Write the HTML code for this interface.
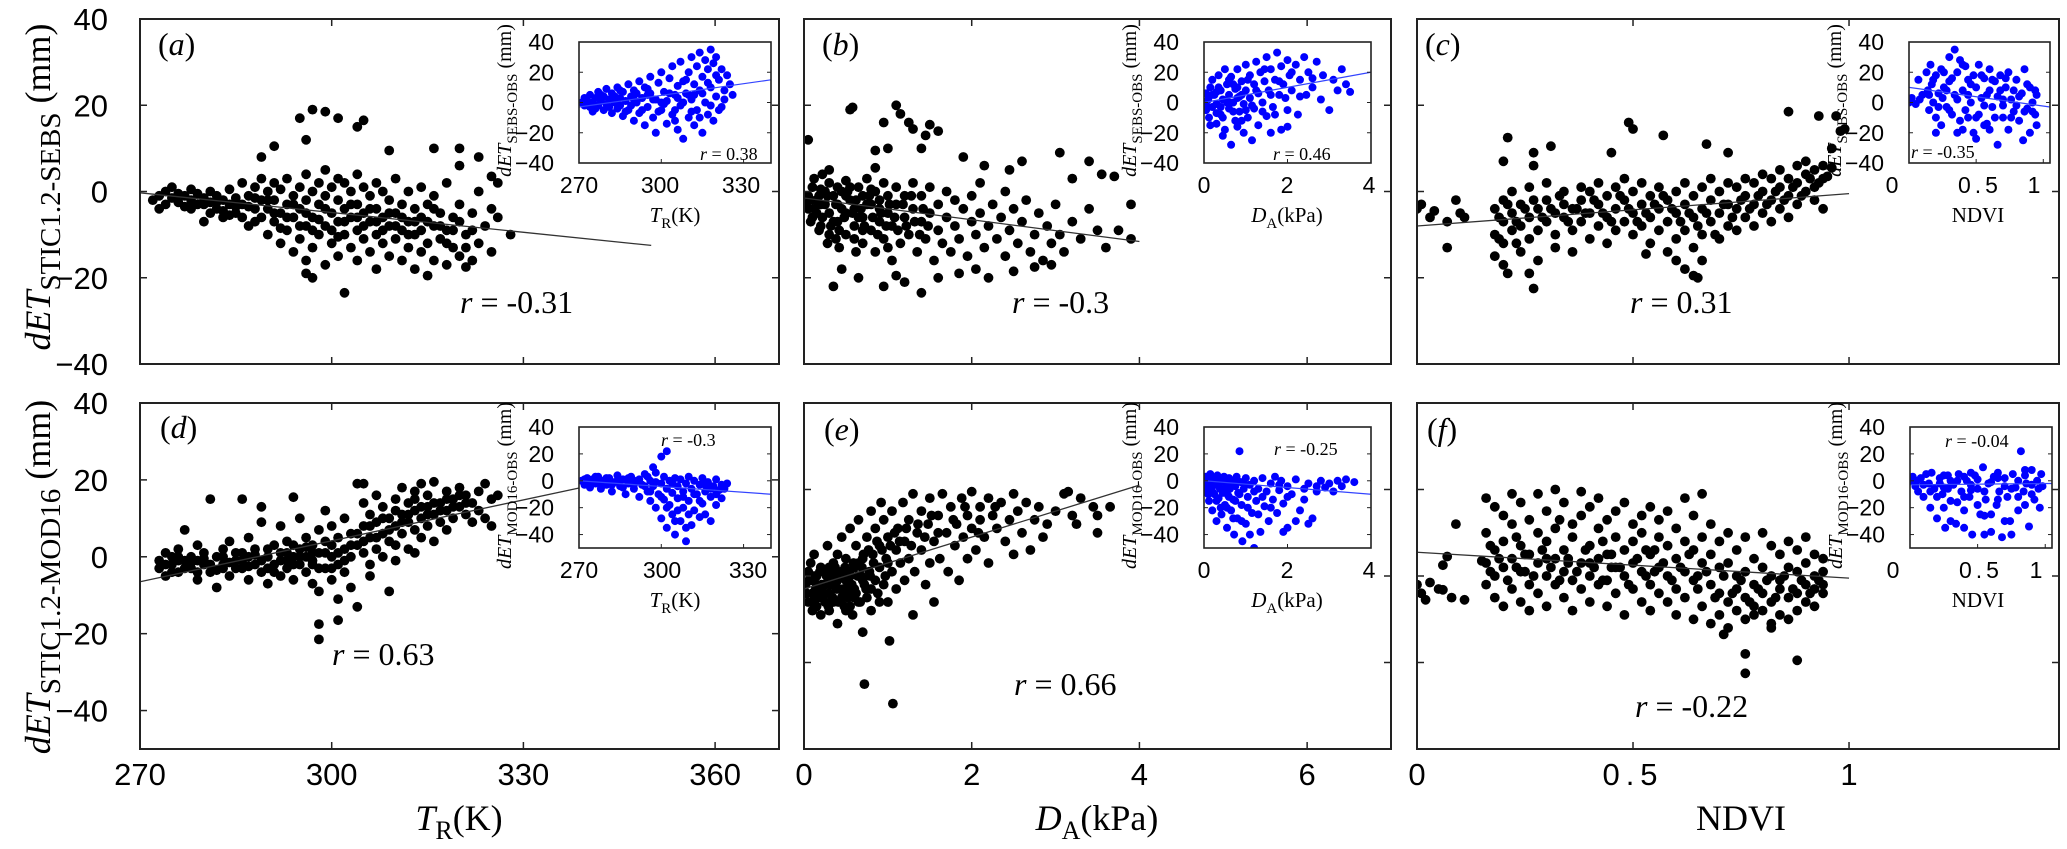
<!DOCTYPE html>
<html><head><meta charset="utf-8"><style>
html,body{margin:0;padding:0;background:#fff;}
svg{display:block;}
text{font-family:"Liberation Serif",serif;}
.sans{font-family:"Liberation Sans","DejaVu Sans",sans-serif;}
</style></head><body>
<svg id="fig" xmlns="http://www.w3.org/2000/svg" width="2067" height="849" viewBox="0 0 2067 849">
<rect x="0" y="0" width="2067" height="849" fill="#fff"/>
<g id="layer"></g>
<text transform="translate(50,187) rotate(-90)" text-anchor="middle" font-size="36"><tspan font-style="italic">dET</tspan><tspan font-size="29" dy="10">STIC1.2-SEBS</tspan><tspan dy="-10"> (mm)</tspan></text>
<text transform="translate(50,577) rotate(-90)" text-anchor="middle" font-size="36"><tspan font-style="italic">dET</tspan><tspan font-size="29" dy="10">STIC1.2-MOD16</tspan><tspan dy="-10"> (mm)</tspan></text>
<text x="459" y="830" text-anchor="middle" font-size="36"><tspan font-style="italic">T</tspan><tspan font-size="26" dy="9">R</tspan><tspan dy="-9">(K)</tspan></text>
<text x="1097" y="830" text-anchor="middle" font-size="36"><tspan font-style="italic">D</tspan><tspan font-size="26" dy="9">A</tspan><tspan dy="-9">(kPa)</tspan></text>
<text x="1741" y="830" text-anchor="middle" font-size="36">NDVI</text>
</svg>
<script>
const NS="http://www.w3.org/2000/svg";
// ---------- data ----------
const ptsA=[[272,-2],[273,-1],[273,-4],[274,0],[274,-3],[275,-1.5],[275,1],[276,-2.5],[276,-0.5],[277,-3.5],[277,-1],[278,0.5],[278,-2],[279,-3],[279,-0.5],[280,-1.5],[280,-7],[281,-2.5],[281,0],[282,-4],[282,-1],[283,-6],[283,-2],[284,0.5],[284,-3],[285,-1.5],[285,-5],
[286,-3],[286,2],[287,-8],[287,-1],[288,-4],[288,1],[289,-6],[289,-2],[289,3],[290,-10],[290,-4],[290,0],[291,-7],[291,-2],[291,2],[292,-12],[292,-5],[292,0.5],[293,-9],[293,-3],[293,3],[294,-14],[294,-6],[294,-1],[295,-11],[295,-4],[295,1],[296,-16],[296,-8],[296,-2],[296,4],[297,-13],[297,-6],[297,0],[298,-10],[298,-3],[298,2],[299,-17],[299,-8],[299,-1],[299,5],[300,-12],[300,-5],[300,1],
[301,-15],[301,-7],[301,-2],[301,3],[302,-10],[302,-4],[302,2],[303,-13],[303,-6],[303,0],[304,-16],[304,-9],[304,-3],[304,4],[305,-11],[305,-5],[305,1],[306,-14],[306,-7],[306,-1],[307,-18],[307,-10],[307,-4],[307,2],[308,-12],[308,-6],[308,0],[309,-15],[309,-8],[309,-2],[310,-11],[310,-5],[310,3],[311,-16],[311,-9],[311,-3],[312,-13],[312,-7],[312,0],[313,-18],[313,-10],[313,-4],[314,-14],[314,-6],[314,1],[315,-12],[315,-3],
[316,-16],[316,-8],[316,-1],[317,-11],[317,-5],[318,-17],[318,-9],[318,2],[319,-13],[319,-6],[320,-15],[320,-3],[321,-10],[322,-16],[322,-5],[323,-12],[323,0],[324,-8],[325,-14],[325,-4],[326,-6],[326,2],
[297,19],[299,18.5],[295,17],[301,17],[304,15],[305,16.5],[296,12],[291,10.5],[289,8],[309,9.5],[316,10],[320,10],[323,8],[320,6],[325,3.5],[328,-10],[302,-23.5],[296,-19],[297,-20],[315,-19.5],[321,-17.5]];
const ptsAcore=[[278,-4],[280,-3],[282,-2.5],[284,-5.5],[286,-6],[287,-3.5],[288,-7],[290,-2],[291,-5],[292,-8.5],[293,-6],[294,-3],[295,-8],[296,-5],[297,-9],[298,-6.5],[299,-4],[300,-9],[301,-10.5],[302,-7],[303,-3],[304,-6],[305,-8],[306,-4],[307,-7],[308,-9],[309,-5],[310,-8],[311,-6],[312,-10],[313,-7],[314,-9],[315,-7],[316,-4],[317,-8],[318,-12],[319,-9],[320,-7],[321,-13],[322,-9],[288,-1.5],[285,-3.5],[283,-4.5],[281,-5]];
const ptsB=[[0.05,-1],[0.05,-4],[0.1,1],[0.1,-6],[0.15,-2],[0.2,0.5],[0.2,-8],[0.25,-3],[0.3,-5],[0.3,2],[0.35,-1],[0.4,-7],[0.4,-3],[0.45,0],[0.5,-10],[0.5,-5],[0.5,2.5],[0.55,-2],[0.6,-8],[0.6,-4],[0.65,1],[0.7,-12],[0.7,-6],[0.7,-1],[0.75,3],[0.8,-9],[0.8,-3],[0.85,-14],[0.85,0],[0.9,-7],[0.9,-2],[0.95,-11],[0.95,2],[1.0,-5],[1.0,-1],[1.05,-16],[1.05,-8],[1.1,-3],[1.1,1],[1.15,-12],[1.2,-6],[1.2,-1],[1.25,-10],[1.3,-4],[1.3,2],[1.35,-14],[1.4,-7],[1.4,-1],[1.45,-11],[1.5,-5],[1.5,1],[1.55,-16],[1.6,-9],[1.6,-3],[1.65,-12],[1.7,-6],[1.7,0],[1.75,-14],[1.8,-8],[1.8,-2],[1.85,-11],[1.9,-4],[1.95,-15],[2.0,-7],[2.0,-1],[2.05,-10],[2.1,-5],[2.1,2],[2.15,-13],[2.2,-8],[2.25,-3],[2.3,-11],[2.35,-6],[2.4,-15],[2.4,0],[2.45,-9],[2.5,-4],[2.55,-12],[2.6,-7],[2.65,-2],[2.7,-14],[2.75,-10],[2.8,-5],[2.85,-16],[2.9,-8],[2.95,-12],[3.0,-3],[3.05,-10],[3.1,-14],[3.2,-7],[3.3,-11],[3.4,-4],[3.5,-9],[3.6,-13],[3.75,-9],[3.9,-11],[3.9,-3],
[0.05,12],[0.3,5],[0.55,19],[0.58,19.5],[0.85,5.5],[0.85,9.5],[1.0,10],[0.95,16],[1.15,18],[1.1,20],[1.25,16],[1.3,14.5],[1.5,15.5],[1.6,14],[1.45,13],[1.4,10],[1.9,8],[2.15,6],[2.45,5],[2.6,7],[3.05,9],[3.2,3],[3.4,7],[3.55,4],[3.7,3.5],[1.6,-20],[0.65,-20],[0.35,-22],[0.95,-22],[1.1,-19.5],[1.4,-23.5],[2.2,-20],[1.85,-19],[2.5,-18.5],[2.05,-18],[2.75,-17.5],[2.95,-17],[1.2,-21],[0.45,-18],
[0.15,-5],[0.25,0],[0.35,-7],[0.45,-4],[0.55,1],[0.65,-6],[0.75,-3],[0.8,0.5],[0.3,-10],[0.6,-11],[0.2,-3],[0.4,1],[0.5,-1],[0.7,-9],[0.9,-4],[1.0,-13]];
const ptsBcore=[[0.02,-3],[0.08,-2],[0.12,-4],[0.18,-1],[0.22,-6],[0.28,-1],[0.32,-8],[0.38,-3],[0.42,-9],[0.48,-6],[0.52,0],[0.58,-5],[0.62,-2],[0.68,-4],[0.72,-8],[0.78,-1],[0.82,-6],[0.88,-10],[0.92,-5],[0.98,-8],[1.02,-3],[1.08,-6],[1.12,-9],[1.18,-3],[1.22,-8],[1.28,-1],[1.32,-7],[1.38,-10],[1.42,-4],[1.48,-8],[0.08,-7],[0.18,-9],[0.28,-12],[0.38,-11],[0.12,3],[0.22,4],[0.42,-13],[0.62,-14]];
const ptsC=[[0.0,-4],[0.01,-3],[0.03,-6],[0.04,-4.5],[0.07,-7],[0.09,-2],[0.1,-5],[0.11,-6],[0.07,-13],
[0.21,12.5],[0.49,16],[0.57,13],[0.67,11],[0.86,18.5],[0.93,17.5],[0.97,17.5],[0.98,14],[0.99,14.5],[0.96,10],[0.72,9],[0.45,9],[0.31,10.5],[0.5,14.5],[0.27,9],[0.96,5.5],[0.27,6],[0.2,7],[0.95,3.5],
[0.27,-22.5],[0.26,-19],[0.21,-19],[0.64,-19.5],[0.65,-20],[0.53,-14.5],
[0.18,-4],[0.18,-10],[0.18,-15],[0.2,-2],[0.2,-7],[0.2,-12],[0.2,-17],[0.22,-5],[0.22,0],[0.22,-9],[0.24,-3],[0.24,-8],[0.24,-14],[0.26,1],[0.26,-6],[0.26,-11],[0.28,-4],[0.28,-9],[0.28,-16],[0.3,-2],[0.3,-7],[0.3,2],[0.32,-5],[0.32,-10],[0.32,-13],[0.34,0],[0.34,-6],[0.34,-3],[0.36,-4],[0.36,-9],[0.36,-14],[0.38,1],[0.38,-2],[0.38,-7],[0.4,-5],[0.4,-11],[0.4,0],[0.42,-3],[0.42,-8],[0.42,2],[0.44,-1],[0.44,-6],[0.44,-12],[0.46,1],[0.46,-4],[0.46,-9],[0.48,-2],[0.48,-7],[0.48,3],[0.5,0],[0.5,-5],[0.5,-10],[0.52,-3],[0.52,-8],[0.52,2],[0.54,-1],[0.54,-6],[0.54,-12],[0.56,1],[0.56,-4],[0.56,-9],[0.58,-2],[0.58,-7],[0.58,-14],[0.6,0],[0.6,-5],[0.6,-11],[0.6,-16],[0.62,-3],[0.62,-9],[0.62,2],[0.62,-18],[0.64,-1],[0.64,-6],[0.64,-13],[0.66,1],[0.66,-4],[0.66,-10],[0.66,-16],[0.68,-2],[0.68,-7],[0.68,3],[0.7,0],[0.7,-5],[0.7,-11],[0.72,-3],[0.72,-8],[0.72,2],[0.74,1],[0.74,-4],[0.74,-9],[0.76,-1],[0.76,-6],[0.76,3],[0.78,2],[0.78,-3],[0.78,-8],[0.8,0],[0.8,-5],[0.8,4],[0.82,3],[0.82,-2],[0.82,-7],[0.84,1],[0.84,-4],[0.84,5],[0.86,3],[0.86,-1],[0.86,-6],[0.88,6],[0.88,2],[0.88,-3],[0.9,4],[0.9,0],[0.9,7],[0.92,5],[0.92,1],[0.92,-2],[0.94,3],[0.94,6],[0.94,-4]];
const ptsCcore=[[0.19,-6],[0.21,-3],[0.23,-7],[0.25,-4],[0.27,-2],[0.29,-6],[0.31,-4],[0.33,-1],[0.35,-7],[0.37,-4],[0.39,-5],[0.41,-2],[0.43,-5],[0.45,-7],[0.47,-1],[0.49,-4],[0.51,-7],[0.53,-5],[0.55,-3],[0.57,-1],[0.59,-4],[0.61,-7],[0.63,-5],[0.65,-8],[0.67,-5],[0.69,-10],[0.71,-3],[0.73,-6],[0.75,-2],[0.77,-4],[0.79,-1],[0.81,-3],[0.83,0],[0.85,-2],[0.87,1],[0.89,-1],[0.91,3],[0.93,2],[0.19,-11],[0.23,-12]];
const ptsD=[[273,-1],[273,-3],[274,1],[274,-5],[275,0],[275,-2],[276,2],[276,-4],[277,-1],[277,7],[278,0],[278,-3],[279,3],[279,-6],[280,-2],[280,1],[281,-4],[281,15],[282,0],[282,-8],[283,2],[283,-2],[284,-5],[284,4],[285,-1],[285,1],[286,-3],[286,15],[287,0],[287,-6],[287,5],[288,2],[288,-2],[289,-4],[289,9],[289,13],[290,0],[290,-7],[291,3],[291,-2],[292,-5],[292,1],[292,8],[293,-1],[293,4],[293,-3],[294,15.5],[294,0],[294,-6],[295,2],[295,-2],[295,10],[296,-4],[296,5],[296,0],[297,-7],[297,3],[297,-1],[298,-9],[298,1],[298,7],[298,-17.5],[298,-21.5],[299,-3],[299,4],[299,12],[300,-6],[300,0],[300,8],[301,-2],[301,5],[301,-16.5],[301,-11],[302,2],[302,-4],[302,10],[303,0],[303,6],[303,-8],[304,3],[304,-13],[304,19],[305,8],[305,1],[305,14],[305,19],[306,5],[306,-2],[306,11],[307,9],[307,2],[307,16],[308,6],[308,0],[308,13],[309,-9],[309,4],[309,10],[310,8],[310,15],[310,3],[311,11],[311,6],[311,18],[312,9],[312,14],[312,2],[313,12],[313,17],[313,7],[314,10],[314,19],[314,5],[315,13],[315,8],[315,16],[316,11],[316,19.5],[316,4],[317,14],[317,9],[318,17],[318,12],[318,7],[319,15],[319,10],[320,18],[320,13],[321,11],[321,16],[322,14],[322,9],[323,17],[323,12],[324,19],[324,10],[325,15],[325,8],[326,16],[313,1],[310,-1],[306,-5],[276,-1],[279,-1],[283,-3],[286,1],[290,-3],[294,3],[297,1],[300,3]];
const ptsDcore=[[274,-2],[275,-4],[276,0],[277,-3],[278,-1.5],[279,-4],[280,-0.5],[281,-2],[282,-3.5],[283,0],[284,-1.5],[285,-3],[286,-1],[287,-2.5],[288,0.5],[289,-1],[290,2],[291,-4],[292,-1],[293,1],[294,-2],[295,0],[296,2.5],[297,-2],[298,-3],[299,1],[300,-3],[301,1],[302,-1],[303,3],[304,6],[305,4],[306,8],[307,5],[308,10],[309,7],[310,12],[311,9],[312,11],[313,15],[314,13],[315,11],[316,14],[317,12],[318,15],[319,13],[320,16],[321,14]];
const ptsE=[[0.02,-2],[0.05,1],[0.05,-6],[0.08,3],[0.1,-4],[0.1,-1],[0.12,5],[0.15,-7],[0.15,0],[0.18,-3],[0.2,2],[0.2,-9],[0.22,-5],[0.25,1],[0.25,-2],[0.28,7],[0.3,-4],[0.3,-8],[0.32,0],[0.35,3],[0.35,-6],[0.38,-1],[0.4,-11],[0.4,5],[0.42,-3],[0.45,1],[0.45,9],[0.48,-7],[0.5,-1],[0.5,4],[0.52,-4],[0.55,11],[0.55,0],[0.58,-9],[0.6,2],[0.6,-3],[0.62,7],[0.65,-6],[0.65,13],[0.68,0],[0.7,4],[0.7,-13],[0.72,-2],[0.72,-25],[0.75,9],[0.75,-5],[0.78,1],[0.8,15],[0.8,-8],[0.82,5],[0.85,-1],[0.85,11],[0.88,-4],[0.9,7],[0.9,2],[0.92,17],[0.95,-2],[0.95,13],[0.98,4],[1.0,-6],[1.0,9],[1.02,-15],[1.05,1],[1.05,15],[1.06,-29.5],[1.1,6],[1.1,-3],[1.12,11],[1.15,3],[1.18,17],[1.2,-1],[1.2,8],[1.25,13],[1.25,4],[1.3,-9],[1.3,19],[1.32,1],[1.35,10],[1.4,6],[1.4,15],[1.45,-2],[1.48,12],[1.5,3],[1.5,18],[1.55,-6],[1.55,8],[1.6,14],[1.62,4],[1.65,19],[1.7,10],[1.72,1],[1.75,16],[1.8,7],[1.82,12],[1.85,-1],[1.88,18],[1.9,9],[1.95,14],[1.95,4],[2.0,19.5],[2.0,11],[2.05,6],[2.1,16],[2.1,13],[2.15,9],[2.2,18],[2.2,3],[2.25,14],[2.3,11],[2.35,17],[2.4,8],[2.45,13],[2.5,19],[2.5,5],[2.55,15],[2.6,10],[2.65,17],[2.7,6],[2.75,13],[2.8,16],[2.85,9],[2.9,12],[3.0,15],[3.1,19],[3.15,19.5],[3.2,14],[3.25,12],[3.3,18],[3.45,16],[3.5,14],[3.5,10],[3.65,16],[0.3,-4],[0.15,-2],[0.5,-3],[0.4,-1],[0.6,-5],[0.25,-6],[0.35,1],[0.55,-7],[0.7,-1],[0.45,-5],[0.8,-3],[0.2,-4],[0.1,-8],[0.3,2],[0.5,-8],[0.65,3],[0.9,-6],[1.0,3]];
const ptsEcore=[[0.03,-4],[0.06,-1],[0.09,-6],[0.12,0],[0.14,-3],[0.17,-5],[0.19,1],[0.21,-2],[0.24,-4],[0.27,0],[0.29,-7],[0.31,-2],[0.34,-5],[0.37,2],[0.39,-3],[0.41,-6],[0.44,0],[0.47,-3],[0.49,2],[0.52,-5],[0.54,1],[0.57,-2],[0.59,3],[0.62,-4],[0.64,0],[0.67,-6],[0.69,2],[0.71,5],[0.74,-3],[0.77,6],[0.79,0],[0.83,3],[0.87,8],[0.93,6],[0.97,0],[1.03,7],[1.08,10],[1.14,8],[1.22,11],[1.28,7],[1.36,12],[1.44,9],[1.52,14],[1.6,10],[1.78,13],[1.92,16],[2.08,10],[2.28,16]];
const ptsF=[[0.0,-2],[0.01,-4],[0.02,-5.5],[0.03,-1.5],[0.05,-3],[0.06,-3.2],[0.06,2.5],[0.07,4.5],[0.09,12],[0.08,-5],[0.11,-5.5],[0.15,3.5],
[0.16,18],[0.16,10],[0.16,3],[0.16,-2],[0.18,16],[0.18,6],[0.18,0],[0.18,-5],[0.2,14],[0.2,8],[0.2,2],[0.2,-7],[0.22,19],[0.22,12],[0.22,4],[0.22,-3],[0.24,17],[0.24,7],[0.24,1],[0.24,-6],[0.26,13],[0.26,5],[0.26,-2],[0.26,-8],[0.28,19],[0.28,10],[0.28,3],[0.28,-4],[0.3,15],[0.3,8],[0.3,0],[0.3,-7],[0.32,20],[0.32,11],[0.32,4],[0.32,-2],[0.34,17],[0.34,6],[0.34,1],[0.34,-5],[0.36,12],[0.36,9],[0.36,-1],[0.36,-8],[0.38,19.5],[0.38,14],[0.38,3],[0.38,-3],[0.4,16],[0.4,7],[0.4,0],[0.4,-6],[0.42,18],[0.42,11],[0.42,4],[0.42,-2],[0.44,13],[0.44,5],[0.44,-1],[0.44,-7],[0.46,15],[0.46,9],[0.46,2],[0.46,-4],[0.48,17],[0.48,6],[0.48,0],[0.48,-9],[0.5,12],[0.5,8],[0.5,3],[0.5,-3],[0.52,14],[0.52,10],[0.52,1],[0.52,-6],[0.54,16],[0.54,5],[0.54,-2],[0.54,-8],[0.56,13],[0.56,9],[0.56,2],[0.56,-4],[0.58,15],[0.58,7],[0.58,0],[0.58,-6],[0.6,11],[0.6,4],[0.6,-3],[0.6,-9],[0.62,18],[0.62,8],[0.62,1],[0.62,-5],[0.64,14],[0.64,6],[0.64,-1],[0.64,-10],[0.66,19],[0.66,9],[0.66,3],[0.66,-7],[0.68,12],[0.68,5],[0.68,-2],[0.68,-11],[0.7,8],[0.7,2],[0.7,-4],[0.7,-9],[0.72,10],[0.72,3],[0.72,-6],[0.72,-12],[0.74,6],[0.74,0],[0.74,-3],[0.74,-8],[0.76,9],[0.76,1],[0.76,-5],[0.76,-10],[0.78,4],[0.78,-2],[0.78,-7],[0.78,-9],[0.8,10],[0.8,2],[0.8,-4],[0.8,-8],[0.82,7],[0.82,0],[0.82,-6],[0.82,-11],[0.84,5],[0.84,-1],[0.84,-3],[0.84,-9],[0.86,8],[0.86,2],[0.86,-5],[0.86,-10],[0.88,6],[0.88,1],[0.88,-4],[0.88,-8],[0.9,9],[0.9,3],[0.9,-2],[0.9,-6],[0.92,5],[0.92,0],[0.92,-3],[0.92,-7],[0.94,4],[0.94,1],[0.94,-2],[0.94,-4],
[0.76,-18],[0.76,-22.5],[0.88,-19.5],[0.71,-13.5],[0.82,-12],[0.25,1],[0.35,3],[0.45,2],[0.55,1],[0.65,0],[0.3,4],[0.4,3]];
const ptsFcore=[[0.17,1],[0.19,4],[0.21,-1],[0.23,2],[0.25,5],[0.27,0],[0.29,6],[0.31,2],[0.33,-1],[0.35,4],[0.37,1],[0.39,6],[0.41,2],[0.43,-1],[0.45,5],[0.47,2],[0.49,-2],[0.51,4],[0.53,0],[0.55,6],[0.57,3],[0.59,-1],[0.61,2],[0.63,5],[0.65,-3],[0.67,1],[0.69,-5],[0.71,0],[0.73,-4],[0.75,-1],[0.77,-6],[0.79,-3],[0.81,-1],[0.83,-5],[0.85,0],[0.87,-3],[0.89,-1],[0.91,-4],[0.93,-1],[0.17,7],[0.23,9],[0.33,13],[0.43,8],[0.53,6]];
const insA=[[271,0],[272,-2],[272,3],[273,1],[274,-3],[274,5],[275,0],[275,-6],[276,3],[277,-2],[277,7],[278,1],[279,-5],[279,4],[280,-1],[280,9],[281,2],[282,-7],[282,6],[283,0],[284,-4],[284,10],[285,3],[286,-9],[286,7],[287,1],[288,-5],[288,12],[289,4],[290,-12],[290,8],[291,0],[292,-7],[292,14],[293,3],[294,-15],[294,10],[295,-3],[296,6],[296,17],[297,-10],[298,2],[298,-20],[299,13],[300,-5],[300,20],[301,7],[302,-14],[302,1],[303,16],[304,-8],[304,24],[305,5],[306,-18],[306,11],[307,-2],[307,27],[308,14],[308,-24],[309,6],[310,-10],[310,20],[311,30],[311,2],[312,-15],[312,12],[313,24],[313,-5],[314,33],[314,8],[315,-20],[315,17],[316,28],[316,0],[317,-8],[317,22],[318,35],[318,10],[319,-12],[319,26],[320,4],[320,30],[321,15],[322,-3],[322,22],[323,8],[324,18],[325,12],[326,5],[285,-2],[290,2],[295,5],[300,0],[305,-5],[310,5]];
const insAcore=[[273,-1],[276,-4],[278,5],[281,-3],[283,4],[285,8],[287,-6],[289,-2],[291,6],[293,-5],[295,9],[297,2],[299,-6],[301,-1],[303,6],[305,-12],[306,3],[308,0],[309,15],[311,-6],[312,5],[314,-10],[315,6],[317,13],[318,-2],[320,18],[321,-5],[323,2]];
const insB=[[0.02,0],[0.05,-5],[0.05,6],[0.1,2],[0.12,-10],[0.15,10],[0.2,-3],[0.2,15],[0.25,5],[0.3,-14],[0.3,-1],[0.35,18],[0.4,8],[0.4,-8],[0.45,2],[0.5,22],[0.5,-18],[0.55,12],[0.6,-4],[0.6,5],[0.65,-28],[0.65,17],[0.7,0],[0.75,-12],[0.75,9],[0.8,22],[0.85,-6],[0.85,4],[0.9,14],[0.95,-20],[0.95,-1],[1.0,25],[1.0,8],[1.05,-10],[1.1,3],[1.1,18],[1.15,-25],[1.2,-4],[1.2,12],[1.25,27],[1.3,6],[1.3,-15],[1.35,20],[1.4,0],[1.45,14],[1.5,-9],[1.5,30],[1.55,8],[1.6,22],[1.65,-3],[1.7,15],[1.75,33],[1.8,5],[1.85,-18],[1.85,24],[1.9,12],[2.0,28],[2.0,-5],[2.05,18],[2.1,8],[2.2,25],[2.25,-8],[2.3,15],[2.4,30],[2.45,5],[2.5,20],[2.6,10],[2.7,27],[2.8,2],[2.85,18],[3.0,-5],[3.1,15],[3.2,8],[3.3,22],[3.4,12],[3.5,7],[1.6,-20],[2.0,-16],[0.3,7],[0.7,12],[0.4,-3],[0.6,0],[0.8,3],[1.0,-5]];
const insBcore=[[0.1,-3],[0.2,5],[0.3,-7],[0.35,10],[0.45,-10],[0.55,0],[0.6,15],[0.7,-6],[0.8,10],[0.9,-12],[0.9,5],[1.05,15],[1.15,-2],[1.25,8],[1.4,-6],[1.45,22],[1.6,5],[1.7,-8],[1.8,14],[1.95,3],[2.1,20],[2.3,4],[2.6,16],[0.15,-15],[0.45,-22],[0.8,-16]];
const insC=[[0.0,0],[0.02,3],[0.05,-1],[0.07,15],[0.08,2],[0.1,5],[0.13,20],[0.14,8],[0.15,-5],[0.16,25],[0.17,12],[0.18,0],[0.2,-10],[0.2,18],[0.22,6],[0.24,-15],[0.24,22],[0.26,10],[0.28,-3],[0.3,30],[0.3,14],[0.32,-8],[0.34,35],[0.34,5],[0.36,20],[0.38,-12],[0.38,28],[0.4,8],[0.42,-5],[0.42,24],[0.44,15],[0.46,0],[0.48,-20],[0.48,18],[0.5,10],[0.52,-8],[0.52,25],[0.54,3],[0.56,16],[0.58,-14],[0.6,8],[0.6,22],[0.62,-3],[0.64,14],[0.66,-28],[0.66,4],[0.68,18],[0.7,-10],[0.72,10],[0.74,-18],[0.74,20],[0.76,2],[0.78,-6],[0.8,15],[0.82,-12],[0.84,6],[0.86,22],[0.88,-4],[0.9,-20],[0.9,10],[0.92,0],[0.94,-8],[0.95,5],[0.95,-15],[0.3,-5],[0.44,-10],[0.56,-2],[0.7,2],[0.8,-2],[0.6,-18],[0.25,3],[0.4,-18],[0.5,-24],[0.85,-25]];
const insCcore=[[0.15,5],[0.18,15],[0.22,-3],[0.26,20],[0.28,8],[0.32,16],[0.36,2],[0.4,25],[0.44,5],[0.46,12],[0.5,-10],[0.54,18],[0.58,5],[0.62,15],[0.64,-10],[0.68,8],[0.7,-2],[0.72,16],[0.76,-10],[0.78,8],[0.82,4],[0.86,-6],[0.88,12],[0.92,-6],[0.94,8],[0.2,-20],[0.36,-20],[0.56,-15]];
const insD=[[271,0],[272,-3],[273,2],[274,-5],[275,1],[276,-2],[277,3],[278,-6],[279,0],[280,-3],[281,2],[282,-8],[283,-1],[284,4],[285,-4],[286,1],[287,-10],[288,-2],[289,3],[290,-6],[291,0],[292,-12],[293,-3],[294,5],[295,-8],[296,-15],[296,0],[297,-4],[298,-20],[298,6],[299,-10],[300,-2],[300,-28],[301,-14],[301,3],[302,-6],[302,-35],[303,-18],[303,0],[304,-9],[304,-25],[305,2],[305,-40],[306,-13],[306,-4],[307,-30],[307,1],[308,-8],[308,-20],[309,-45],[309,-2],[310,-15],[310,3],[311,-33],[311,-6],[312,-22],[312,0],[313,-10],[314,-27],[314,-3],[315,-17],[315,2],[316,-8],[316,-25],[317,-1],[318,-12],[318,-30],[319,-4],[320,-18],[320,1],[321,-7],[322,-13],[322,-3],[323,-6],[324,-2],[300,18],[302,22],[297,10],[295,3],[290,-1]];
const insDcore=[[272,1],[274,-1],[276,3],[278,-2],[280,2],[282,-3],[284,0],[286,-5],[288,2],[290,-3],[292,1],[294,-4],[296,-8],[298,-1],[300,-12],[302,-20],[304,-2],[306,-22],[308,-12],[310,-25],[312,-10],[314,-15],[316,-3],[318,-6],[320,-10],[322,-6],[305,-30],[309,-35]];
const insE=[[0.02,-2],[0.05,3],[0.08,-8],[0.1,0],[0.12,-15],[0.15,5],[0.18,-5],[0.2,-22],[0.22,2],[0.25,-10],[0.28,-3],[0.3,-30],[0.32,4],[0.35,-13],[0.38,-6],[0.4,1],[0.42,-25],[0.45,-9],[0.48,3],[0.5,-18],[0.52,-2],[0.55,-35],[0.58,-11],[0.6,2],[0.62,-6],[0.65,-22],[0.68,0],[0.7,-14],[0.72,-40],[0.75,-4],[0.78,3],[0.8,-28],[0.82,-9],[0.85,22],[0.88,-1],[0.9,-18],[0.92,-45],[0.95,-6],[1.0,2],[1.0,-32],[1.05,-12],[1.1,-3],[1.15,-24],[1.2,0],[1.2,-50],[1.25,-15],[1.3,-6],[1.35,-38],[1.4,2],[1.45,-19],[1.5,-8],[1.55,-30],[1.6,-2],[1.65,-14],[1.7,3],[1.75,-24],[1.8,-7],[1.85,0],[1.9,-17],[2.0,-4],[2.0,-35],[2.1,-10],[2.2,1],[2.3,-22],[2.4,-6],[2.5,-2],[2.6,-28],[2.7,-4],[2.8,0],[2.9,-5],[3.0,-2],[3.1,-8],[3.2,0],[3.3,-4],[3.4,1],[3.6,-1],[2.5,-32],[2.2,-30],[1.9,-38]];
const insEcore=[[0.05,-4],[0.1,-10],[0.15,-1],[0.2,-8],[0.25,2],[0.3,-15],[0.35,-3],[0.4,-20],[0.45,0],[0.5,-6],[0.55,-20],[0.6,-12],[0.65,-3],[0.7,-28],[0.75,-15],[0.8,0],[0.85,-10],[0.9,-30],[0.95,-2],[1.05,-20],[1.1,-40],[1.2,-8],[1.3,-25],[1.4,-12],[1.6,-20],[1.8,-3],[2.0,-12],[2.4,-14],[2.7,-8]];
const insF=[[0.0,0],[0.02,3],[0.04,-4],[0.06,-8],[0.08,2],[0.1,-12],[0.12,5],[0.14,-2],[0.15,-20],[0.16,6],[0.18,-6],[0.2,-28],[0.22,2],[0.24,-10],[0.26,-35],[0.28,4],[0.3,-15],[0.32,-3],[0.34,-32],[0.36,5],[0.38,-8],[0.4,-22],[0.42,0],[0.44,-12],[0.46,-40],[0.48,4],[0.5,-6],[0.52,-25],[0.54,10],[0.56,-14],[0.58,-2],[0.6,-38],[0.62,3],[0.64,-18],[0.66,-8],[0.68,-42],[0.7,2],[0.72,-12],[0.74,-30],[0.76,5],[0.78,-5],[0.8,-22],[0.82,22],[0.84,-8],[0.86,-2],[0.88,-34],[0.9,8],[0.92,-14],[0.94,0],[0.96,-20],[0.97,5],[0.98,-4],[0.3,0],[0.4,3],[0.5,1],[0.6,-1],[0.7,-4],[0.8,0],[0.9,-3],[0.25,-5],[0.45,-7],[0.65,2],[0.85,4],[0.35,-16],[0.55,-26]];
const insFcore=[[0.05,0],[0.1,-3],[0.15,-8],[0.2,-12],[0.22,-2],[0.25,-20],[0.28,-6],[0.3,-30],[0.35,0],[0.4,-12],[0.45,-3],[0.5,-18],[0.55,-8],[0.6,-25],[0.65,-14],[0.7,-30],[0.75,-6],[0.8,-12],[0.85,-18],[0.9,-10],[0.95,-6],[0.25,4],[0.45,6],[0.65,6],[0.85,8],[0.55,-40],[0.75,-40],[0.4,-35]];
// regression line endpoints
const lineA=[[270,-0.3],[350,-12.5]];
const lineB=[[0,-1.5],[4,-11.6]];
const lineC=[[0,-8],[1,-0.5]];
const lineD=[[270,-6.5],[339,18]];
const lineE=[[0,-3],[4,21]];
const lineF=[[0,5.5],[1,-0.5]];
const linInsA=[[270,-3],[340,15]];
const linInsB=[[0,0],[4,20]];
const linInsC=[[0,10],[1.05,-3]];
const linInsD=[[270,0],[340,-10]];
const linInsE=[[0,0],[4,-10]];
const linInsF=[[0,-3],[1.05,-2]];
const rMain=['-0.31','-0.3','0.31','0.63','0.66','-0.22'];
const rInset=['0.38','0.46','-0.35','-0.3','-0.25','-0.04'];
const xTicksTR=[270,300,330,360];
const xTicksDA=[0,2,4,6];
const xTicksND=[0,0.5,1];
const yTicksMain=[40,20,0,-20,-40];

const layer=document.getElementById('layer');
function mk(tag,attrs,parent){const e=document.createElementNS(NS,tag);for(const k in attrs)e.setAttribute(k,attrs[k]);(parent||layer).appendChild(e);return e;}
function scaler(L,R,T,B,x0,x1,y0,y1){return {x:v=>L+(v-x0)/(x1-x0)*(R-L),y:v=>T+(y1-v)/(y1-y0)*(B-T)};}

const panels=[
 {k:'a',L:140,R:779,T:19,B:364,x0:270,x1:370,y0:-40,y1:40,xt:xTicksTR,yt:[20,0,-20],pts:ptsA.concat(ptsAcore),line:lineA,rx:460,ry:313,lx:158,ly:55},
 {k:'b',L:804,R:1391,T:19,B:364,x0:0,x1:7,y0:-40,y1:40,xt:xTicksDA,yt:[20,0,-20],pts:ptsB.concat(ptsBcore),line:lineB,rx:1012,ry:313,lx:822,ly:55},
 {k:'c',L:1417,R:2059,T:19,B:364,x0:0,x1:1.486,y0:-40,y1:40,xt:xTicksND,yt:[20,0,-20],pts:ptsC.concat(ptsCcore),line:lineC,rx:1630,ry:313,lx:1425,ly:55},
 {k:'d',L:140,R:779,T:403,B:749,x0:270,x1:370,y0:-50,y1:40,xt:xTicksTR,yt:[20,0,-20,-40],pts:ptsD.concat(ptsDcore),line:lineD,rx:332,ry:665,lx:160,ly:438},
 {k:'e',L:804,R:1391,T:403,B:749,x0:0,x1:7,y0:-40,y1:40,xt:xTicksDA,yt:[20,0,-20],pts:ptsE.concat(ptsEcore),line:lineE,rx:1014,ry:695,lx:824,ly:440},
 {k:'f',L:1417,R:2059,T:403,B:749,x0:0,x1:1.486,y0:-40,y1:40,xt:xTicksND,yt:[20,0,-20],pts:ptsF.concat(ptsFcore),line:lineF,rx:1635,ry:717,lx:1427,ly:440}
];
const insets=[
 {L:579,R:771,T:42,B:163,x0:270,x1:340,y0:-40,y1:40,xl:[[270,579],[300,660],[330,741]],pts:insA.concat(insAcore),line:linInsA,rx:700,ry:160,title:'TR',tx:675,yl:'SEBS-OBS'},
 {L:1204,R:1371,T:42,B:163,x0:0,x1:4,y0:-40,y1:40,xl:[[0,1204],[2,1287],[4,1369]],pts:insB.concat(insBcore),line:linInsB,rx:1273,ry:160,title:'DA',tx:1287,yl:'SEBS-OBS'},
 {L:1909,R:2050,T:42,B:163,x0:0,x1:1.05,y0:-40,y1:40,xl:[[0,1892],[0.5,1980],[1,2034]],pts:insC.concat(insCcore),line:linInsC,rx:1911,ry:158,title:'ND',tx:1978,yl:'SEBS-OBS'},
 {L:579,R:771,T:427,B:548,x0:270,x1:340,y0:-50,y1:40,xl:[[270,579],[300,662],[330,748]],pts:insD.concat(insDcore),line:linInsD,rx:661,ry:446,title:'TR',tx:675,yl:'MOD16-OBS'},
 {L:1204,R:1371,T:427,B:548,x0:0,x1:4,y0:-50,y1:40,xl:[[0,1204],[2,1287],[4,1369]],pts:insE.concat(insEcore),line:linInsE,rx:1274,ry:455,title:'DA',tx:1287,yl:'MOD16-OBS'},
 {L:1910,R:2052,T:427,B:548,x0:0,x1:1.05,y0:-50,y1:40,xl:[[0,1893],[0.5,1981],[1,2036]],pts:insF.concat(insFcore),line:linInsF,rx:1945,ry:447,title:'ND',tx:1978,yl:'MOD16-OBS'}
];

panels.forEach((p,i)=>{
 const s=scaler(p.L,p.R,p.T,p.B,p.x0,p.x1,p.y0,p.y1);
 const g=mk('g',{});
 
 
 const cp=mk('clipPath',{id:'clip'+p.k},g);
 mk('rect',{x:p.L,y:p.T,width:p.R-p.L,height:p.B-p.T},cp);
 const dots=mk('g',{'clip-path':'url(#clip'+p.k+')'},g);
 
 
 p.pts.forEach(q=>{
  const c=mk('circle',{cx:s.x(q[0]).toFixed(1),cy:s.y(q[1]).toFixed(1),r:4.9,fill:'#000'},dots);
  
  
 });
 const ln=mk('line',{x1:s.x(p.line[0][0]),y1:s.y(p.line[0][1]),x2:s.x(p.line[1][0]),y2:s.y(p.line[1][1]),stroke:'#333','stroke-width':1.3,'clip-path':'url(#clip'+p.k+')'},g);
 
 
 const box=mk('rect',{x:p.L,y:p.T,width:p.R-p.L,height:p.B-p.T,fill:'none',stroke:'#222','stroke-width':2},g);
 
 
 p.xt.forEach(v=>{const x=s.x(v);if(x<=p.L+1||x>=p.R-1)return;
  mk('line',{x1:x,y1:p.B,x2:x,y2:p.B-7,stroke:'#222','stroke-width':1.5},g);
  mk('line',{x1:x,y1:p.T,x2:x,y2:p.T+7,stroke:'#222','stroke-width':1.5},g);});
 p.yt.forEach(v=>{const y=s.y(v);
  mk('line',{x1:p.L,y1:y,x2:p.L+7,y2:y,stroke:'#222','stroke-width':1.5},g);
  mk('line',{x1:p.R,y1:y,x2:p.R-7,y2:y,stroke:'#222','stroke-width':1.5},g);});
 if(i>=3){p.xt.forEach(v=>{
  const t=mk('text',{x:s.x(v),y:785,'text-anchor':'middle','font-size':31,class:'sans'},g);
  
  
  t.textContent=(v===0.5?'0.5':String(v));
  if(v===0.5)t.setAttribute('letter-spacing','6');});}
 if(p.k==='a'||p.k==='d'){yTicksMain.forEach(v=>{
  const t=mk('text',{x:108,y:s.y(v)+11,'text-anchor':'end','font-size':31,class:'sans'},g);
  
  
  t.textContent=String(v).replace('-','\u2212');});}
 const lab=mk('text',{x:p.lx,y:p.ly,'font-size':32},g);
 
 
 lab.innerHTML='(<tspan font-style="italic">'+p.k+'</tspan>)';
 const rt=mk('text',{x:p.rx,y:p.ry,'font-size':32},g);
 
 
 rt.innerHTML='<tspan font-style="italic">r</tspan> = '+rMain[i];
});

insets.forEach((n,i)=>{
 const s=scaler(n.L,n.R,n.T,n.B,n.x0,n.x1,n.y0,n.y1);
 const g=mk('g',{});
 
 
 mk('rect',{x:n.L,y:n.T,width:n.R-n.L,height:n.B-n.T,fill:'#fff'},g);
 const cid='iclip'+i;
 const cp=mk('clipPath',{id:cid},g);
 mk('rect',{x:n.L,y:n.T,width:n.R-n.L,height:n.B-n.T},cp);
 const dots=mk('g',{'clip-path':'url(#'+cid+')'},g);
 
 
 n.pts.forEach(q=>{
  const c=mk('circle',{cx:s.x(q[0]).toFixed(1),cy:s.y(q[1]).toFixed(1),r:4,fill:'#0000ff'},dots);
  
  
 });
 const ln=mk('line',{x1:s.x(n.line[0][0]),y1:s.y(n.line[0][1]),x2:s.x(n.line[1][0]),y2:s.y(n.line[1][1]),stroke:'#3344ff','stroke-width':1.2,'clip-path':'url(#'+cid+')'},g);
 
 
 const box=mk('rect',{x:n.L,y:n.T,width:n.R-n.L,height:n.B-n.T,fill:'none',stroke:'#222','stroke-width':1.6},g);
 
 
 const yt=[40,20,0,-20,-40];
 yt.forEach(v=>{const y=s.y(v);
  mk('line',{x1:n.L,y1:y,x2:n.L+4,y2:y,stroke:'#222','stroke-width':1},g);
  mk('line',{x1:n.R,y1:y,x2:n.R-4,y2:y,stroke:'#222','stroke-width':1},g);
  const t=mk('text',{x:n.L-25,y:y+8,'text-anchor':'end','font-size':23,class:'sans'},g);
  
  
  t.textContent=String(v).replace('-','\u2212');});
 const base=n.B+30;
 n.xl.forEach(a=>{
  const xx=s.x(a[0]);
  if(xx>n.L+1&&xx<n.R-1){mk('line',{x1:xx,y1:n.B,x2:xx,y2:n.B-4,stroke:'#222','stroke-width':1},g);}
  const t=mk('text',{x:a[1],y:base,'text-anchor':'middle','font-size':23,class:'sans'},g);
  
  
  t.textContent=String(a[0]);
  if(a[0]===0.5)t.setAttribute('letter-spacing','4');});
 const xt=mk('text',{x:n.tx,y:base+29,'text-anchor':'middle','font-size':21},g);
 
 
 if(n.title==='TR')xt.innerHTML='<tspan font-style="italic">T</tspan><tspan font-size="15" dy="6">R</tspan><tspan dy="-6">(K)</tspan>';
 else if(n.title==='DA')xt.innerHTML='<tspan font-style="italic">D</tspan><tspan font-size="15" dy="6">A</tspan><tspan dy="-6">(kPa)</tspan>';
 else xt.textContent='NDVI';
 const yc=(n.T+n.B)/2-2;
 const yl=mk('text',{transform:'translate('+(n.L-68)+','+yc+') rotate(-90)','text-anchor':'middle','font-size':20},g);
 
 
 yl.innerHTML='<tspan font-style="italic">dET</tspan><tspan font-size="15" dy="6">'+n.yl+'</tspan><tspan dy="-6"> (mm)</tspan>';
 const rt=mk('text',{x:n.rx,y:n.ry,'font-size':18},g);
 
 
 rt.innerHTML='<tspan font-style="italic">r</tspan> = '+rInset[i];
});
</script>
</body></html>
